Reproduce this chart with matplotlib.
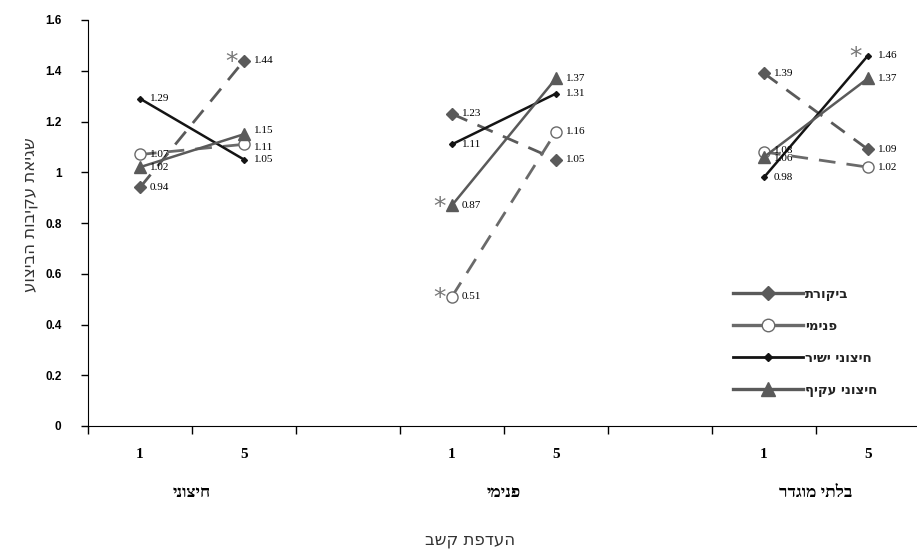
import matplotlib
matplotlib.use('Agg')
import matplotlib.pyplot as plt
from matplotlib.lines import Line2D
from matplotlib.transforms import blended_transform_factory


def heb(s):
    # matplotlib has no bidi, so flip hebrew text by hand
    return s[::-1]


# data
groups = ['חיצוני', 'פנימי', 'בלתי מוגדר']
levels = ['1', '5']
xpos = [0, 1, 3, 4, 6, 7]

control = [0.94, 1.44, 1.23, 1.05, 1.39, 1.09]
internal = [1.07, 1.11, 0.51, 1.16, 1.08, 1.02]
ext_direct = [1.29, 1.05, 1.11, 1.31, 0.98, 1.46]
ext_indirect = [1.02, 1.15, 0.87, 1.37, 1.06, 1.37]

series_names = ['ביקורת', 'פנימי', 'חיצוני ישיר', 'חיצוני עקיף']
series_vals = [control, internal, ext_direct, ext_indirect]

# points marked with * (series index, point index)
signif = [(0, 1), (3, 2), (1, 2), (2, 5)]

styles = [
    dict(color='#5a5a5a', marker='D', ms=6.5, mfc='#5a5a5a', mec='#5a5a5a', ls=(0, (6, 4)), lw=2.0),
    dict(color='#6a6a6a', marker='o', ms=8, mfc='white', mec='#6a6a6a', ls=(0, (6, 4)), lw=2.0),
    dict(color='#141414', marker='D', ms=3, mfc='#141414', mec='#141414', ls='-', lw=1.8),
    dict(color='#5a5a5a', marker='^', ms=9, mfc='#5a5a5a', mec='#5a5a5a', ls='-', lw=1.8),
]

# small nudges for value labels that would sit on top of each other (points)
label_nudge = {(3, 1): 3, (1, 1): -2, (1, 4): 1, (3, 4): -1}

fig = plt.figure(figsize=(9.17, 5.54), dpi=100)
ax = fig.add_axes([88 / 917, 1 - 426 / 554, 832 / 917, 406 / 554])

for si, vals in enumerate(series_vals):
    st = styles[si]
    for g in range(3):
        xs = xpos[2 * g:2 * g + 2]
        ys = vals[2 * g:2 * g + 2]
        ax.plot(xs, ys, color=st['color'], ls=st['ls'], lw=st['lw'],
                marker=st['marker'], ms=st['ms'], mfc=st['mfc'], mec=st['mec'],
                mew=1.0, zorder=3 + si)
    for i, v in enumerate(vals):
        ax.annotate('%g' % v, (xpos[i], v), xytext=(7, label_nudge.get((si, i), 0)),
                    textcoords='offset points', va='center', ha='left',
                    fontsize=8, family='Liberation Serif', color='black', zorder=10)

for si, i in signif:
    ax.annotate('*', (xpos[i], series_vals[si][i]), xytext=(-9, -10),
                textcoords='offset points', ha='center', va='bottom',
                fontsize=18, color='#777777', family='DejaVu Sans', zorder=10)

ax.set_xlim(-0.5, 7.5)
ax.set_ylim(0, 1.6)
ax.spines['top'].set_visible(False)
ax.spines['right'].set_visible(False)

yt = [0, 0.2, 0.4, 0.6, 0.8, 1, 1.2, 1.4, 1.6]
ax.set_yticks(yt)
ax.set_yticklabels(['%g' % t for t in yt], fontsize=8.5, fontweight='bold', family='Liberation Sans')
ax.tick_params(axis='y', direction='out', length=5, width=1, pad=14)

ax.set_xticks([b - 0.5 for b in range(8)])
ax.set_xticklabels([])
ax.tick_params(axis='x', direction='out', length=6, width=1)

trans = blended_transform_factory(ax.transData, fig.transFigure)
for i, x in enumerate(xpos):
    ax.text(x, 1 - 455 / 554, levels[i % 2], transform=trans, ha='center', va='center',
            fontsize=11, fontweight='bold', family='Liberation Serif')
for g in range(3):
    ax.text((xpos[2 * g] + xpos[2 * g + 1]) / 2, 1 - 493 / 554, heb(groups[g]), transform=trans,
            ha='center', va='center', fontsize=12.5, fontweight='bold', family='Liberation Serif')

fig.text(470 / 917, 1 - 540 / 554, heb('העדפת קשב'), ha='center', va='center',
         fontsize=12, family='DejaVu Sans', color='#333333')
fig.text(30 / 917, 1 - 215 / 554, heb('שגיאת עקיבות הביצוע'), ha='center', va='center',
         rotation=90, fontsize=12, family='DejaVu Sans', color='#333333')

handles = []
for si in range(4):
    st = styles[si]
    handles.append(Line2D([], [], color=st['color'], ls='-', lw=2.4 if si != 2 else 2.0,
                          marker=st['marker'], ms=st['ms'] + 1, mfc=st['mfc'], mec=st['mec']))
leg = fig.legend(handles, [heb(n) for n in series_names], loc='upper left',
                 bbox_to_anchor=(726 / 917, 1 - 281 / 554), frameon=False,
                 handlelength=5.3, handletextpad=0.2, labelspacing=1.45, borderpad=0,
                 prop={'family': 'DejaVu Sans', 'weight': 'bold', 'size': 9.5})
for t in leg.get_texts():
    t.set_color('#222222')

fig.savefig('out.png', dpi=100)
